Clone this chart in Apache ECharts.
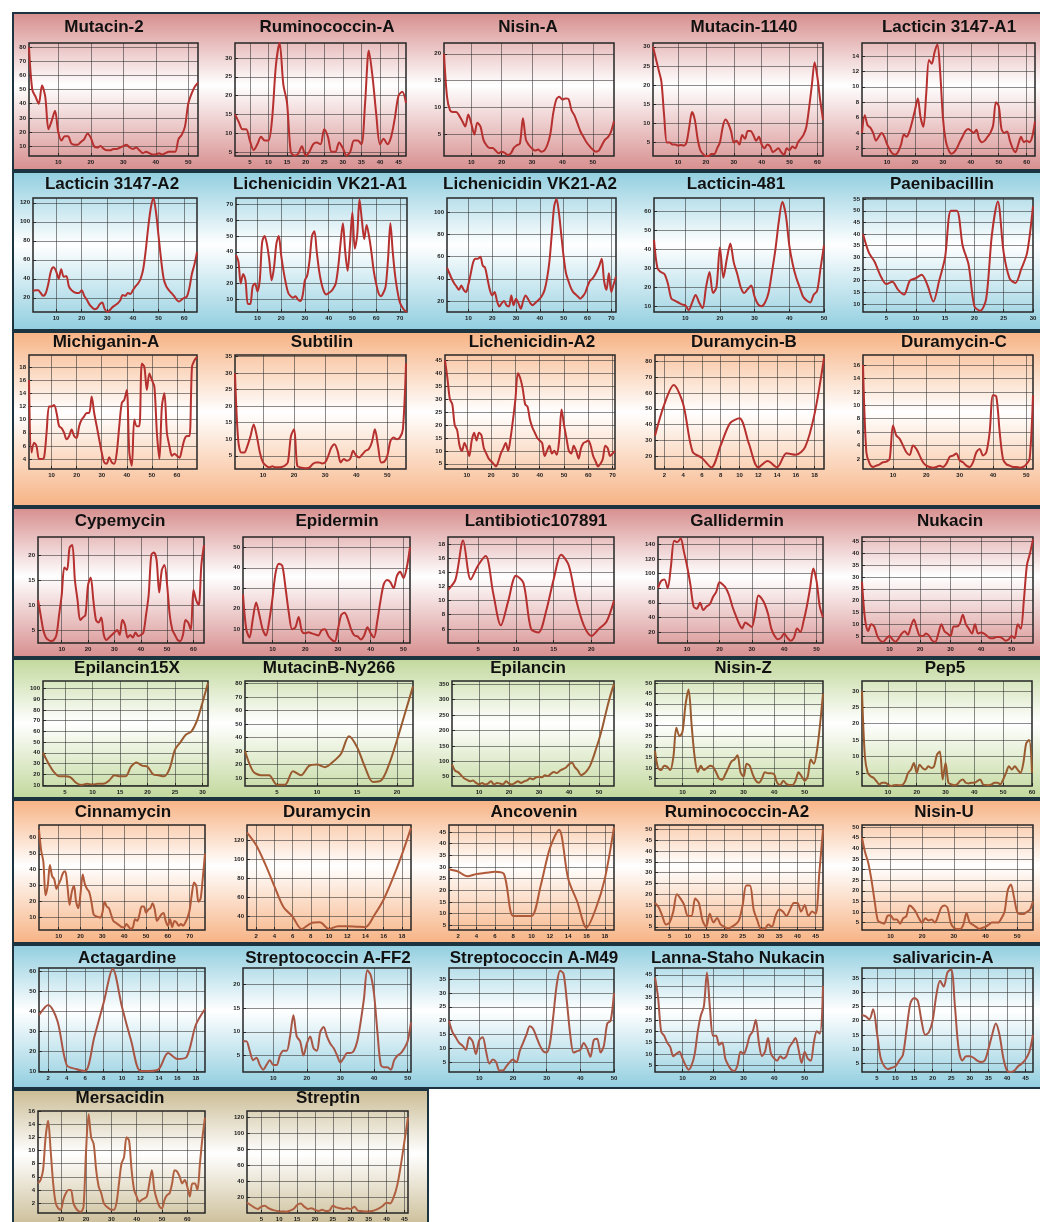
<!DOCTYPE html>
<html><head><meta charset="utf-8">
<script src="https://cdn.jsdelivr.net/npm/echarts@6/dist/echarts.min.js"></script>
<style>
html,body{margin:0;padding:0;background:#fff;width:1040px;height:1222px;overflow:hidden;position:relative;}
.band{position:absolute;box-sizing:border-box;border:2px solid #1c3340;}
.ttl{position:absolute;width:300px;text-align:center;font:bold 17px "Liberation Sans",Arial,sans-serif;color:#111;line-height:20px;white-space:nowrap;}
#chart{position:absolute;left:0;top:0;width:1040px;height:1222px;}
</style></head><body>
<div id="bands"></div><div id="chart"></div><div id="titles"></div>
<script>
// ---------- DATA ----------
const titles = ["Mutacin-2","Ruminococcin-A","Nisin-A","Mutacin-1140","Lacticin 3147-A1",
"Lacticin 3147-A2","Lichenicidin VK21-A1","Lichenicidin VK21-A2","Lacticin-481","Paenibacillin",
"Michiganin-A","Subtilin","Lichenicidin-A2","Duramycin-B","Duramycin-C",
"Cypemycin","Epidermin","Lantibiotic107891","Gallidermin","Nukacin",
"Epilancin15X","MutacinB-Ny266","Epilancin","Nisin-Z","Pep5",
"Cinnamycin","Duramycin","Ancovenin","Ruminococcin-A2","Nisin-U",
"Actagardine","Streptococcin A-FF2","Streptococcin A-M49","Lanna-Staho Nukacin","salivaricin-A",
"Mersacidin","Streptin"];

const mutacin2 = [80,50,45,40,53,45,22,28,35,20,14,17,17,12,11,11,13,15,19,16,10,9,10,8,7,7,8,8,9,10,11,9,8,9,7,5,6,5,4,4,5,4,5,6,6,6,15,18,24,40,47,52,55];
const ruminococcinA = [15,13,11,11,8,5.5,7,9,8,8,14,28,34,23,18,5,4,4.5,6.5,4,5,7,7.5,7,11,9,5,5,7.5,6,4,5,8,8,7,18,32,25,15,7,8.5,7,9,14,20,21,18];
const nisinA = [20,12,9.5,9.2,9.2,8.5,7.5,6.5,8.7,7,5,7.2,6.5,4,3,2.5,2.5,2,1.5,1.8,1.6,1.2,1.5,2.5,3,3.3,8,4,3,2.4,2,2.2,1.8,2,3,5,9,11.5,12,11.5,11.7,11.6,9.5,8.5,7,5.5,4.5,3.5,2.8,2.2,1.8,2,3,4,4.5,5.5,7.5];
const mutacin1140 = [30,27,24,21,12,5,5,4.5,4.5,4.2,4.4,4.2,5,9,13,11,6,3,2,1.5,1.5,2,2,3.5,5,9,11,10,8,5,5.5,4.5,7,6,8,8,7,5.5,6.5,4.5,3.5,4.5,4,2.5,3,3.5,2.5,1.8,3.5,3,4,3.5,5,6,7,9,14,20,26,22,16,11];
const lacticinA1 = [4,6.3,5,4.7,4,3,3.5,4,3.5,2.5,1.8,1.3,1.2,1.6,2.5,3.8,3.5,4.2,5.5,7,8.5,6,4.8,9,13.5,13,14.5,15.5,12,6,3,1.8,1.3,1.5,2,2.8,3.5,4.2,4.5,4.3,4,4.4,3.2,2.8,3,3.5,4,5,8,7.5,4.5,4,4.2,3,2,1.5,2.5,3.5,2.8,3,2.8,3.5,5.5];
const lacticinA2 = [27,28,28,25,22,25,35,48,52,48,40,50,42,43,32,28,26,25,25,28,22,18,13,10,8,9,13,15,8,5,7,10,12,14,17,23,22,25,24,28,32,35,40,50,70,95,115,125,110,85,60,40,32,28,25,22,18,16,18,20,21,30,45,55,68];
const vk21A1 = [38,34,20,26,22,7,7,18,20,15,22,46,50,45,35,22,30,45,50,38,28,20,14,12,11,12,10,9,12,22,25,35,50,53,40,28,20,15,13,14,15,17,20,30,45,58,40,28,45,65,42,50,73,60,48,57,50,40,28,20,14,12,14,18,35,58,40,25,15,8,5,3,2];
const vk21A2 = [50,45,40,36,33,30,34,30,28,35,45,55,58,58,60,52,50,40,30,25,28,20,15,18,20,16,15,25,16,22,18,13,20,25,22,18,16,18,20,22,25,30,40,55,80,105,112,100,80,60,45,38,32,28,26,24,22,24,27,33,38,40,43,47,52,58,38,30,45,28,35,42];
const lacticin481 = [45,30,28,27,22,14,13,12,11,10.5,8,12,16,12,9,20,28,17,20,41,25,35,43,33,27,20,17,19,21,15,11,10,12,17,28,40,55,65,58,42,32,25,20,15,13,12,16,18,30,42];
const paenibacillin = [40,32,28,22,18.5,19.5,16,14,20,21,22.5,18,11,20,30,50,50,35,27,9,7,12,40,54,32,21,19,25,32,52];
const michiganinA = [16,5,6.5,6,4,4,4.2,8,12,12,12.2,11,9,8.7,8,7,7.5,8.5,7.5,7.2,9,10,10.5,11,11,13.5,11,9,7,5,3.5,3.3,4.3,3.5,3.3,5,9,12.5,13,14.5,5,3,10,9,9,18.5,18,14.5,17,16,15,8,4,12,14,8,6,4.5,4.8,4.5,4.2,5.5,7,7.5,7.5,18,19,19.5];
const subtilin = [30,10,6,6,8,11,14.5,11,6,3,2,1.5,1.8,1.5,1.5,1.6,2,3,11,13,2,1.5,1.3,1.2,1.5,2.5,3,3,2.7,3,5,7.5,8.5,6.5,3,4,3.5,4,6.5,5,4.5,5.5,6.5,7,9,13,8,3,3.2,5,9.5,10.5,10,10.5,13,33];
const lichenicidinA2 = [45,38,30,28,20,18,12,10,13,11,8,14,17,14,17,16,11,9,7,6,5,4,6,9,11,13,10,15,22,30,40,38,34,28,27,22,19,17,15,14,13,8,10,12,9,10,8.5,14,26,20,15,10,9,12,10,7,11,13,13.5,14,12,8,6,4,5,7,12,11,8,9,10];
const duramycinB = [33,53,65,53,23,19,13,27,41,44,28,13,17,13,22,21,26,47,82];
const duramycinC = [16,3,1.3,0.8,1,1.2,1.5,1.6,2,7,5.5,5,4,3,2.6,4,3.5,2.5,1.5,1,0.8,0.7,0.8,1,0.8,1.3,2.3,2.5,2.8,1.8,1.5,1,0.8,1.5,3,3.5,2.5,3,6,11.5,11.3,6,2,1.2,1,0.8,0.8,0.7,0.8,1.2,2,11.5];
const cypemycin = [11,8,5,3.5,3,2.8,3,4,8,12,17.5,17,21.5,22,15,11,7,7.5,8,14,15.5,11,7,6.5,7.5,4,3,3.5,4,4.5,5,4,7,6,3.5,4,3.5,4.5,3.8,4,4.5,8,12,20,20.5,19,12.5,17,18,14,8,5,4,3,2.8,4,7,6.5,5,13,11,10,18,22];
const epidermin = [27,10,6,15,23,17,10,7,14,25,38,42,41,30,18,10,11,16,9,8,8.5,8,7.5,7,9.5,10,7,5,4,10,17,18,15,10,7,6.5,5,7,11,8,6,14,24,32,34,33,30,36,38,35,40,50];
const lantibiotic107891 = [11.5,13,18.5,13,15,16.3,11,6.5,10,13.5,12.5,6,5.5,8.5,13,16.5,15,10,6.5,5,6,7,10];
const gallidermin = [80,90,92,80,110,145,143,148,130,110,85,55,52,60,50,55,58,68,75,88,85,80,70,55,43,32,25,33,30,27,45,70,66,58,45,25,15,10,12,18,12,8,12,25,20,35,55,80,107,90,55,40];
const nukacin = [28,12,7,10,9,5,3,2.5,4,5,3.5,2.5,4,6,7,5.5,9,12,8,5,5,6,5,3,2.5,6,10,7,6,5,9,9,10,14,10,8,6,10,6,6.5,6,5,4,4,4.5,4.5,4,3,3.5,5,4,10,8,20,35,40,46];
const epilancin15X = [40,30,22,18,18,17,12,10,11,10.5,11,11,14,19,18,18,27,31,28,27,20,19,18,25,43,50,57,60,70,87,105];
const mutacinBNy266 = [30,15,12,12,5,5,15,12,19,20,18,22,28,41,33,18,7,8,20,38,58,78];
const epilancin = [90,70,65,55,45,40,35,38,30,25,30,25,28,35,25,30,28,25,35,28,25,30,35,30,35,38,45,42,48,50,48,55,52,60,65,62,70,75,80,90,95,80,70,55,60,70,85,110,140,170,205,245,285,320,350];
const nisinZ = [18,10,9,11,10.5,9,15,29,25,27,40,47,30,15,8,11,9,10,11,10.5,8,5,4.5,7,10,13,14,16,8,6,12,11,7,4,3,5,8,7.5,7.5,7,3,2,4,2.5,2,2,4,8,6,4,6,14,12,18,30,45];
const pep5 = [30,10,5,4,3.5,2.5,1.5,2,2,1.5,1,1.2,1.3,1.2,1.3,2.5,5,6,8,5,7.5,6.5,6,7,6.5,7,10.5,11.5,3,8,2,1.5,1.2,1.5,2.5,3,2,1.8,2,2,2.5,3,1.5,1.3,1.2,1.5,2,2,1.5,3,5,7,6,7,6,5,8,14,15,5];
const cinnamycin = [65,52,45,24,30,43,36,34,28,31,34,38,39,30,18,26,30,20,16,25,37,31,28,26,20,12,11,10.5,10,13,20,17,16,12,8,7,6,5,4,4,6,4.5,3,4,9,8,12,17,17,13,15,16,19,15,8,10,12,13,8,5,9,4,8,7,5,6,5,7,10,15,25,32,30,20,22,35,50];
const duramycin = [128,115,95,72,50,40,27,33,34,27,30,30,29.5,29,42,58,80,105,133];
const ancovenin = [29,28,26,27,27.5,28,27,9,9,9,22,38,46,25,15,4,12,25,47];
const ruminococcinA2 = [16,14,10,6,7,12,20,18,15,10,10,18,16,8,5,11,7,9,6,5,4,5,6,8,15,24,24,13,8,4,4,6,5,10,13,12,10,13,16,16,12,15,10,12,11,30,50];
const nisinU = [45,38,33,25,15,6,5,4.5,8,8.5,6.5,6.5,4.5,7,8,13,12,10,7,5,7,6,6.5,5,8,12,13,12,5,2.5,2,2,4,9.5,5,4,3,2,2.5,3,4,5,5,5,7,10,20,23,17,10,9,9,10,11,15];
const actagardine = [38,43,35,13,11,10,27,44,61,42,25,10,10,11,19,16,17,33,41];
const streptococcinFF2 = [8,8,6,4,4.5,3,2,3,4,3,3,5,6,6,9,13.5,9,8,5,7.5,9,6.5,6,10,11,9,7.5,6.5,5,3.5,4.5,5.5,5.5,6,8,12,17,23,22,18,10,3,2.5,2.5,2,4,5,5.5,6.5,8,12];
const streptococcinM49 = [20,16,14,12,11,9.5,14,12.5,8,13,14,9,4.5,6,5,2,2,3.5,5,6,5,9,12,15,18,17,14,11,9,8.5,12,22,33,38,37,27,15,8.5,9,9.5,12,10,7,13,13.5,8.5,11,19,20,30];
const lannaStahoNukacin = [44,35,20,18,15,13,9,10,11,8,5,3,5,10,20,27,31,46,30,18,18,14,15,8,5,3,2.5,5,11,10,13,18,20,25,15,9,11,17,10,8,7,9,8,9,13,15,17,12,6,11,8,7,15,20,19,40];
const salivaricinA = [22,21.5,20.5,24,16,7,4,3,3.5,4,6,8,17,26,28,27,20,15,16,20,29,34,32,37,38,25,10,6,7.5,7.5,7,6,5.5,6,10,15,19,15,7,2.5,2,2.5,4,5,6.5,9,15];
const mersacidin = [5,5.5,7,12,14.5,10,5,2,1.2,1,2.5,3.5,4,4,2,1.2,0.8,0.7,1.5,10,15.5,12,11,7,4.5,3.5,2,1.5,1.2,1,1,2,5,8,9,12,11.5,7,4,3,2.2,2.5,2.7,3,5,7,4,2.5,1.5,1.2,2.5,3.2,3.5,5,7,6.8,6,5,5.5,4.5,3,5,5,4,8,12,15];
const streptin = [13,10,7,5,8,9,6,4,3,2,2,1.5,3,5,10,12,8,5,6,4,2.5,4,2.5,3,9,7,6,5,6,5,8,3,2.5,2,2,2.5,4,6,9,13,12,20,35,60,90,120];

const seriesValues = [mutacin2,ruminococcinA,nisinA,mutacin1140,lacticinA1,
lacticinA2,vk21A1,vk21A2,lacticin481,paenibacillin,
michiganinA,subtilin,lichenicidinA2,duramycinB,duramycinC,
cypemycin,epidermin,lantibiotic107891,gallidermin,nukacin,
epilancin15X,mutacinBNy266,epilancin,nisinZ,pep5,
cinnamycin,duramycin,ancovenin,ruminococcinA2,nisinU,
actagardine,streptococcinFF2,streptococcinM49,lannaStahoNukacin,salivaricinA,
mersacidin,streptin];

// x-axis tick step, y-axis range and tick step (tick labels)
const xTickStep = [10,5,10,10,10, 10,10,10,10,5, 10,10,10,2,10, 10,10,5,10,10, 5,5,10,10,10, 10,2,2,5,10, 2,10,10,10,5, 10,5];
const yLow  = [3,3.9,1,1.5,1, 5,2,10,7,6.5, 2.5,1,3,12,0.5, 2.4,3.3,4,5,2, 9,4,20,1.5,1, 2.3,26,3,3.5,1.5, 9.5,1.5,1.5,2,2, 0.5,0];
const yHigh = [83,34,22,31,15.7, 125,74,113,67,55.5, 19.8,35.5,47,84,17.5, 23.6,55,19,150,47, 107,82,360,51,33, 68,136,48,52,51, 61.5,23.5,39,48,38.5, 16,128];
const yTickStep = [10,5,5,5,2, 20,10,20,10,5, 2,5,5,10,2, 5,10,2,20,5, 10,10,50,5,5, 10,20,5,5,5, 10,5,5,5,5, 2,20];

// ---------- LAYOUT ----------
const bandColors = ['#d89090','#93cfe0','#f7b486','#d89090','#c3d99e','#f7b486','#93cfe0','#cbbd96'];
const lineColors = ['#b5302e','#b5302e','#b5302e','#b5302e','#9a5a30','#b05a3a','#a85545','#b06040'];
const rowBand = [[12,159],[171,160],[331,176],[507,151],[658,141],[799,145],[944,145],[1089,140]];
const rowPlot = [[43,156],[198,312],[355,469],[537,643],[681,786],[825,930],[968,1072],[1111,1216]];
const rowTitleY = [27,184,342,521,668,812,958,1098];
const colPlot = [
 [[29,198],[235,406],[444,614],[653,823],[862,1035]],
 [[33,197],[236,407],[447,616],[654,824],[863,1033]],
 [[29,197],[235,406],[445,615],[655,824],[863,1033]],
 [[38,204],[243,410],[448,614],[658,823],[862,1033]],
 [[43,208],[245,413],[452,614],[655,823],[862,1032]],
 [[39,205],[247,411],[449,614],[655,823],[862,1033]],
 [[39,205],[243,411],[449,614],[655,823],[862,1033]],
 [[38,205],[247,408]]];
const titleX = [
 [104,327,528,744,949],[112,320,530,736,942],[106,322,532,744,954],[120,337,536,737,950],
 [127,329,528,743,945],[123,327,534,737,944],[127,328,534,738,943],[120,328]];

// bands
const bandsEl = document.getElementById('bands');
rowBand.forEach((b, r) => {
  const d = document.createElement('div');
  d.className = 'band';
  const c = bandColors[r];
  d.style.left = '12px';
  d.style.top = b[0] + 'px';
  d.style.height = b[1] + 'px';
  d.style.width = (r === 7 ? 417 : 1040) + 'px';
  d.style.background = 'linear-gradient(to bottom,' + c + ' 0%,#ffffff 46%,' + c + ' 100%)';
  bandsEl.appendChild(d);
});

// titles
const titlesEl = document.getElementById('titles');
const cells = [];
colPlot.forEach((cols, r) => cols.forEach((c, ci) => { cells.push([r, ci]); }));
cells.forEach(([r, ci], i) => {
  const t = document.createElement('div');
  t.className = 'ttl';
  t.textContent = titles[i];
  t.style.left = (titleX[r][ci] - 150) + 'px';
  t.style.top = (rowTitleY[r] - 10) + 'px';
  titlesEl.appendChild(t);
});

// chart
const grid = [], xAxis = [], yAxis = [], series = [];
const gridLineStyle = {color: 'rgba(45,45,45,0.55)', width: 1, type: 'solid'};
cells.forEach(([r, ci], i) => {
  const vals = seriesValues[i];
  const N = vals.length;
  const [x0, x1] = colPlot[r][ci];
  const [y0, y1] = rowPlot[r];
  grid.push({left: x0, top: y0, width: x1 - x0, height: y1 - y0, show: true,
    borderColor: '#262626', borderWidth: 1.5, backgroundColor: 'transparent', containLabel: false});
  const xt = [];
  for (let v = xTickStep[i]; v < N; v += xTickStep[i]) xt.push(v);
  const yt = [];
  const ys = yTickStep[i];
  for (let v = Math.ceil(yLow[i] / ys) * ys; v <= yHigh[i] + 1e-9; v += ys) if (v > yLow[i]) yt.push(v);
  const xtl = xt.slice();
  if (N % xTickStep[i] === 0) xtl.push(N);
  const lbl = {fontSize: 6, fontWeight: 'bold', color: '#1a1a1a', fontFamily: 'Liberation Sans, Arial, sans-serif'};
  xAxis.push({type: 'value', gridIndex: i, min: 1, max: N,
    axisLine: {show: false},
    axisTick: {show: true, inside: true, length: 3, customValues: xtl, lineStyle: {color: '#222'}},
    axisLabel: Object.assign({customValues: xtl, margin: 3}, lbl),
    splitLine: {show: false}});
  yAxis.push({type: 'value', gridIndex: i, min: yLow[i], max: yHigh[i],
    axisLine: {show: false},
    axisTick: {show: true, inside: true, length: 3, customValues: yt, lineStyle: {color: '#222'}},
    axisLabel: Object.assign({customValues: yt, margin: 3}, lbl),
    splitLine: {show: false}});
  const gridMarks = xt.map(v => ({xAxis: v})).concat(yt.filter(v => v < yHigh[i]).map(v => ({yAxis: v})));
  series.push({type: 'line', xAxisIndex: i, yAxisIndex: i, showSymbol: false, smooth: 0.3,
    clip: true, silent: true, animation: false, z: 3,
    lineStyle: {color: lineColors[r], width: 2},
    data: vals.map((v, j) => [j + 1, v]),
    markLine: {silent: true, symbol: 'none', z: 1, animation: false,
      label: {show: false}, lineStyle: gridLineStyle, emphasis: {disabled: true},
      data: gridMarks}});
});

const chart = echarts.init(document.getElementById('chart'), null, {renderer: 'canvas'});
chart.setOption({animation: false, backgroundColor: 'transparent', grid, xAxis, yAxis, series});
</script>
</body></html>
